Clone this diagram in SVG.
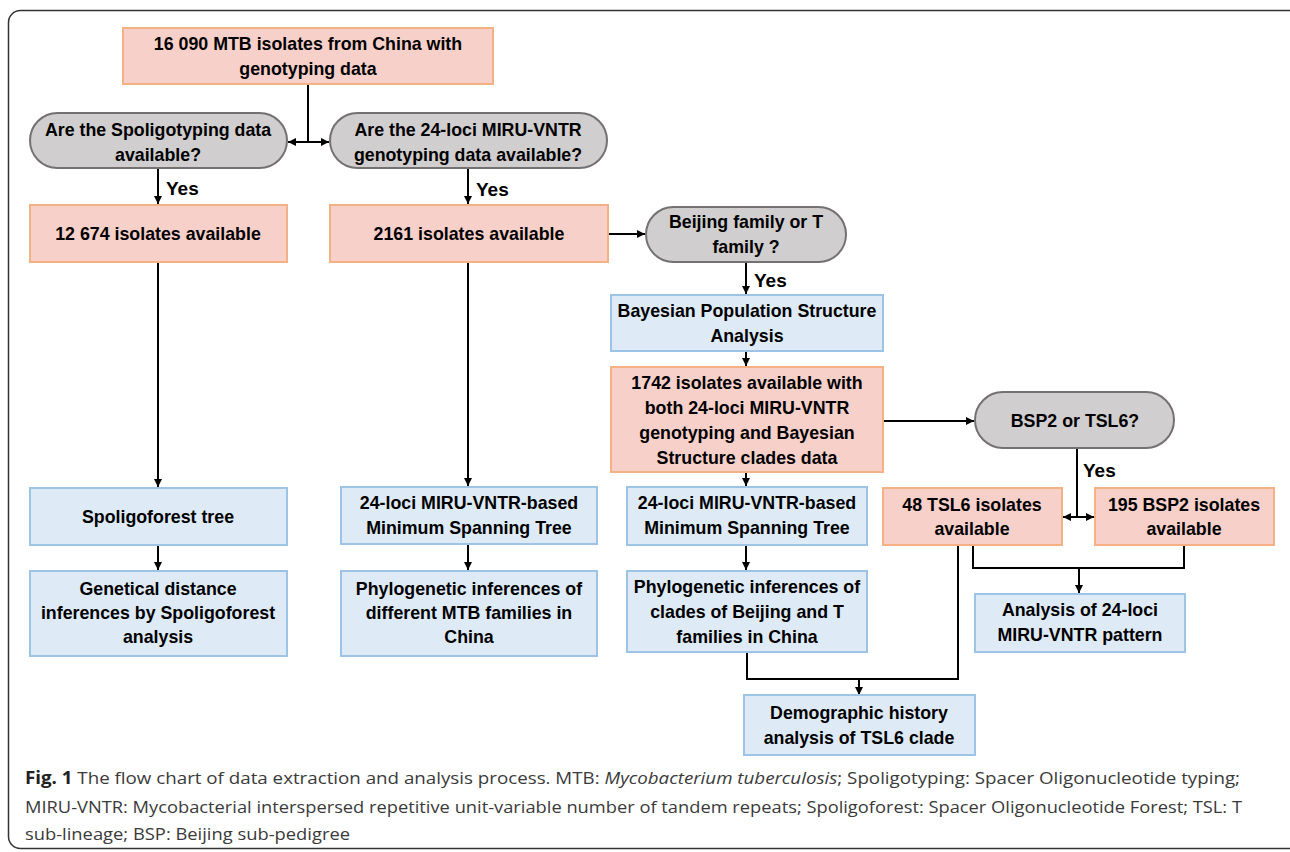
<svg xmlns="http://www.w3.org/2000/svg" width="1290" height="852" viewBox="0 0 1290 852">
<style>
.pk{fill:#f8d0ca;stroke:#f4b183;stroke-width:2}
.bl{fill:#deebf7;stroke:#9dc3e6;stroke-width:2}
.gy{fill:#d0cece;stroke:#767171;stroke-width:2}
.t{font-family:"Liberation Sans",Arial,sans-serif;font-weight:bold;font-size:17.8px;fill:#000;text-anchor:middle}
.y{font-family:"Liberation Sans",Arial,sans-serif;font-weight:bold;font-size:19px;fill:#000}
.ln{fill:none;stroke:#000;stroke-width:2}
.cap{font-family:"Open Sans","Liberation Sans",sans-serif;font-size:17px;fill:#3a3a3a}
</style>
<defs>
<marker id="ah" viewBox="0 0 10 10" refX="10" refY="5" markerWidth="4" markerHeight="4" orient="auto-start-reverse" markerUnits="strokeWidth">
<path d="M0,0 L10,5 L0,10 z" fill="#000"/>
</marker>
</defs>
<rect x="0" y="0" width="1290" height="852" fill="#fff"/>
<rect x="8.5" y="10.5" width="1292" height="838" rx="12" fill="none" stroke="#333" stroke-width="1.5"/>

<g id="connectors">
<path class="ln" d="M308,84 V142"/>
<path class="ln" d="M308,142 H288" marker-end="url(#ah)"/>
<path class="ln" d="M308,142 H329" marker-end="url(#ah)"/>
<path class="ln" d="M158,168 V204" marker-end="url(#ah)"/>
<path class="ln" d="M468,168 V204" marker-end="url(#ah)"/>
<path class="ln" d="M608,234 H645" marker-end="url(#ah)"/>
<path class="ln" d="M746,262 V294" marker-end="url(#ah)"/>
<path class="ln" d="M746,351 V366" marker-end="url(#ah)"/>
<path class="ln" d="M883,421 H974" marker-end="url(#ah)"/>
<path class="ln" d="M746,472 V486" marker-end="url(#ah)"/>
<path class="ln" d="M746,545 V570" marker-end="url(#ah)"/>
<path class="ln" d="M1077,448 V517" stroke-width="2.5"/>
<path class="ln" d="M1077,517 H1063" marker-end="url(#ah)"/>
<path class="ln" d="M1077,517 H1094" marker-end="url(#ah)"/>
<path class="ln" d="M973,545 V568 H1184 V545" stroke-width="2.5"/>
<path class="ln" d="M1079,568 V593" marker-end="url(#ah)"/>
<path class="ln" d="M958,545 V679 H747 V652"/>
<path class="ln" d="M859,679 V695" marker-end="url(#ah)"/>
<path class="ln" d="M158,262 V487" marker-end="url(#ah)"/>
<path class="ln" d="M158,545 V570" marker-end="url(#ah)"/>
<path class="ln" d="M468,262 V486" marker-end="url(#ah)"/>
<path class="ln" d="M468,544 V570" marker-end="url(#ah)"/>
<text class="y" x="166" y="195">Yes</text>
<text class="y" x="476" y="196">Yes</text>
<text class="y" x="754" y="287">Yes</text>
<text class="y" x="1083" y="477">Yes</text>
</g>

<g id="n-start"><rect class="pk" x="123" y="28" width="370" height="56"/>
<text class="t" x="308" y="50">16 090 MTB isolates from China with</text><text class="t" x="308" y="75">genotyping data</text></g>

<g id="n-spoligo-q"><rect class="gy" x="30" y="113" width="257" height="55" rx="27.5"/>
<text class="t" x="158" y="136">Are the Spoligotyping data</text><text class="t" x="158" y="161">available?</text></g>

<g id="n-miru-q"><rect class="gy" x="330" y="113" width="277" height="55" rx="27.5"/>
<text class="t" x="468" y="136">Are the 24-loci MIRU-VNTR</text><text class="t" x="468" y="161">genotyping data available?</text></g>

<g id="n-12674"><rect class="pk" x="30" y="205" width="257" height="57"/>
<text class="t" x="158" y="240">12 674 isolates available</text></g>

<g id="n-2161"><rect class="pk" x="330" y="205" width="278" height="57"/>
<text class="t" x="469" y="240">2161 isolates available</text></g>

<g id="n-beijing-q"><rect class="gy" x="646" y="207" width="200" height="55" rx="27.5"/>
<text class="t" x="746" y="228">Beijing family or T</text><text class="t" x="746" y="253">family ?</text></g>

<g id="n-bayes"><rect class="bl" x="611" y="295" width="272" height="56"/>
<text class="t" x="747" y="317">Bayesian Population Structure</text><text class="t" x="747" y="342">Analysis</text></g>

<g id="n-1742"><rect class="pk" x="611" y="367" width="272" height="105"/>
<text class="t" x="747" y="389">1742 isolates available with</text><text class="t" x="747" y="414">both 24-loci MIRU-VNTR</text>
<text class="t" x="747" y="439">genotyping and Bayesian</text><text class="t" x="747" y="464">Structure clades data</text></g>

<g id="n-bsp-q"><rect class="gy" x="975" y="392" width="199" height="56" rx="28"/>
<text class="t" x="1075" y="427">BSP2 or TSL6?</text></g>

<g id="n-mst-r"><rect class="bl" x="627" y="487" width="240" height="58"/>
<text class="t" x="747" y="509">24-loci MIRU-VNTR-based</text><text class="t" x="747" y="534">Minimum Spanning Tree</text></g>

<g id="n-phylo-r"><rect class="bl" x="627" y="571" width="240" height="81"/>
<text class="t" x="747" y="593">Phylogenetic inferences of</text><text class="t" x="747" y="618">clades of Beijing and T</text><text class="t" x="747" y="643">families in China</text></g>

<g id="n-tsl6"><rect class="pk" x="883" y="488" width="179" height="57"/>
<text class="t" x="972" y="511">48 TSL6 isolates</text><text class="t" x="972" y="535">available</text></g>

<g id="n-bsp2"><rect class="pk" x="1095" y="488" width="179" height="57"/>
<text class="t" x="1184" y="511">195 BSP2 isolates</text><text class="t" x="1184" y="535">available</text></g>

<g id="n-analysis"><rect class="bl" x="975" y="594" width="210" height="58"/>
<text class="t" x="1080" y="616">Analysis of 24-loci</text><text class="t" x="1080" y="641">MIRU-VNTR pattern</text></g>

<g id="n-demo"><rect class="bl" x="744" y="695" width="231" height="60"/>
<text class="t" x="859" y="719">Demographic history</text><text class="t" x="859" y="744">analysis of TSL6 clade</text></g>

<g id="n-spolitree"><rect class="bl" x="30" y="488" width="257" height="57"/>
<text class="t" x="158" y="523">Spoligoforest tree</text></g>

<g id="n-genetical"><rect class="bl" x="30" y="571" width="257" height="85"/>
<text class="t" x="158" y="595">Genetical distance</text><text class="t" x="158" y="619">inferences by Spoligoforest</text><text class="t" x="158" y="643">analysis</text></g>

<g id="n-mst-m"><rect class="bl" x="341" y="487" width="256" height="57"/>
<text class="t" x="469" y="509">24-loci MIRU-VNTR-based</text><text class="t" x="469" y="534">Minimum Spanning Tree</text></g>

<g id="n-phylo-m"><rect class="bl" x="341" y="571" width="256" height="85"/>
<text class="t" x="469" y="595">Phylogenetic inferences of</text><text class="t" x="469" y="619">different MTB families in</text><text class="t" x="469" y="643">China</text></g>

<g id="caption">
<text class="cap" x="25" y="784" textLength="1215" lengthAdjust="spacingAndGlyphs"><tspan font-weight="bold" fill="#222">Fig. 1</tspan> The flow chart of data extraction and analysis process. MTB: <tspan font-style="italic">Mycobacterium tuberculosis</tspan>; Spoligotyping: Spacer Oligonucleotide typing;</text>
<text class="cap" x="25" y="813" textLength="1217" lengthAdjust="spacingAndGlyphs">MIRU-VNTR: Mycobacterial interspersed repetitive unit-variable number of tandem repeats; Spoligoforest: Spacer Oligonucleotide Forest; TSL: T</text>
<text class="cap" x="25" y="840" textLength="325" lengthAdjust="spacingAndGlyphs">sub-lineage; BSP: Beijing sub-pedigree</text>
</g>
</svg>
